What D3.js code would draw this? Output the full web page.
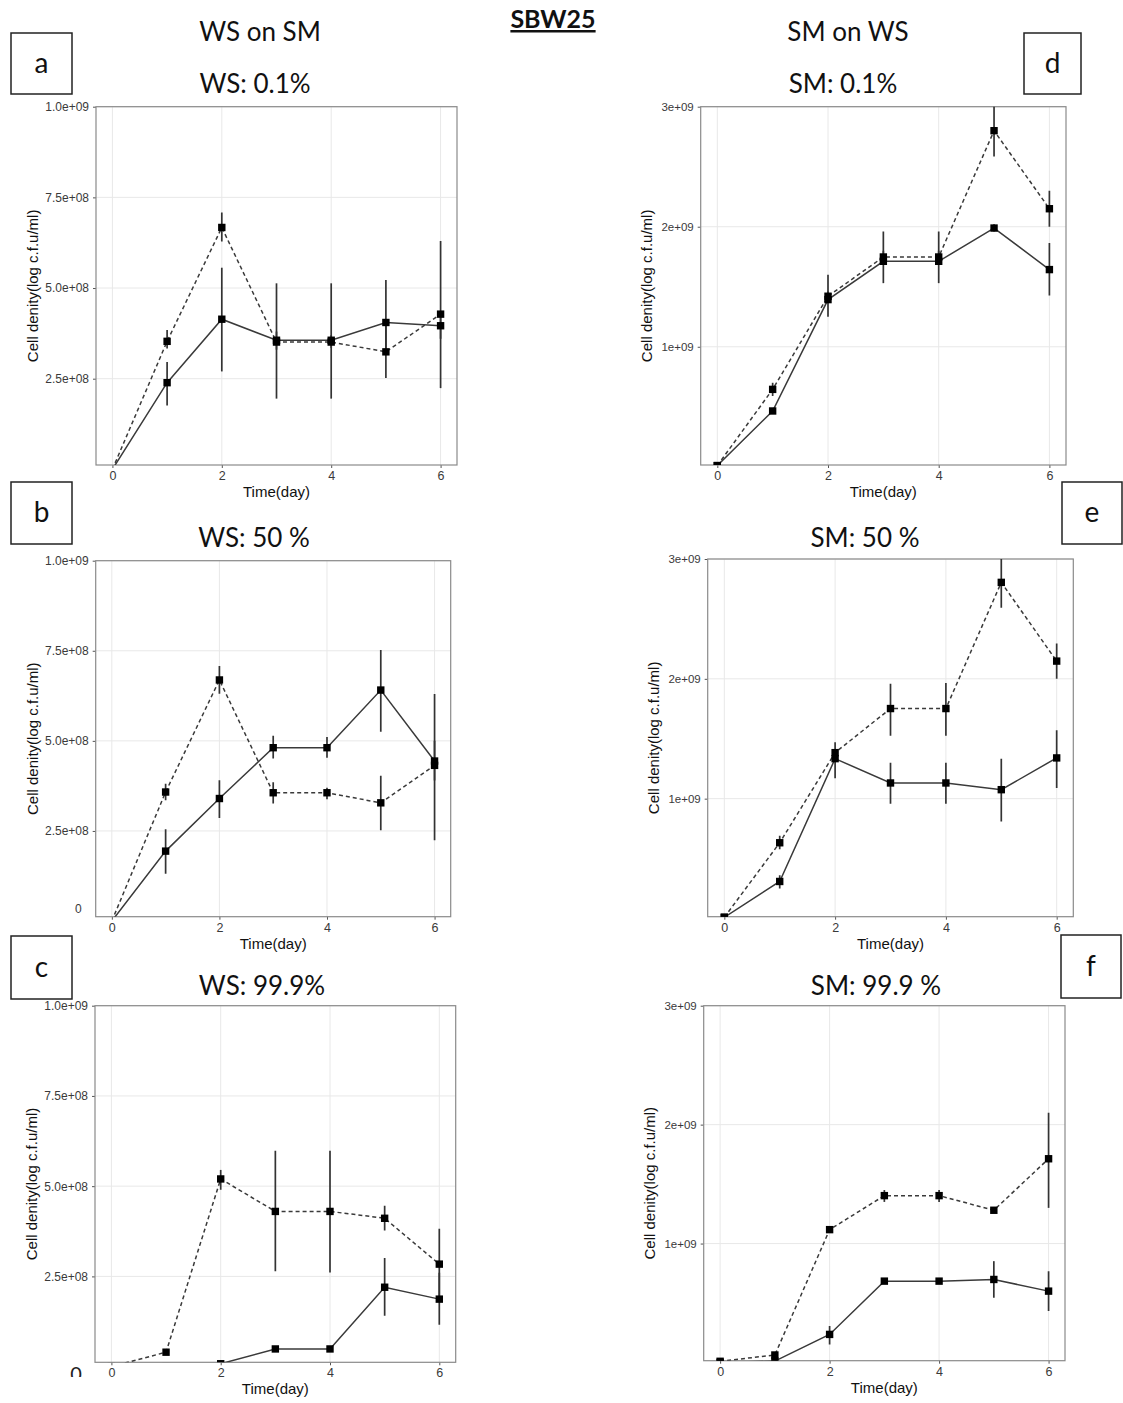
<!DOCTYPE html>
<html>
<head>
<meta charset="utf-8">
<script src="https://cdn.jsdelivr.net/npm/d3@7"></script>
<style>
  html, body { margin: 0; padding: 0; background: #ffffff; }
  svg { display: block; }
</style>
</head>
<body>
<script>
// ---- Data ----------------------------------------------------------------
const days = [0, 1, 2, 3, 4, 5, 6];
const xTicks = [0, 2, 4, 6];
const leftTicks = [2.5e8, 5.0e8, 7.5e8, 1.0e9];
const leftTickLabels = ["2.5e+08", "5.0e+08", "7.5e+08", "1.0e+09"];
const rightTicks = [1e9, 2e9, 3e9];
const rightTickLabels = ["1e+09", "2e+09", "3e+09"];

// a) WS on SM, WS: 0.1%
const aSolid    = [0, 2.39e8, 4.14e8, 3.56e8, 3.56e8, 4.05e8, 3.96e8];
const aSolidLo  = [null, 1.76e8, 2.70e8, 1.95e8, 1.95e8, 3.30e8, 3.60e8];
const aSolidHi  = [null, 2.96e8, 5.56e8, 5.13e8, 5.13e8, 5.22e8, 4.30e8];
const aDashed   = [0, 3.53e8, 6.67e8, 3.51e8, 3.51e8, 3.24e8, 4.28e8];
const aDashedLo = [null, 3.33e8, 6.28e8, 3.30e8, 3.35e8, 2.52e8, 2.24e8];
const aDashedHi = [null, 3.84e8, 7.08e8, 3.80e8, 3.70e8, 4.00e8, 6.30e8];

// b) WS: 50 %
const bSolid    = [0, 1.94e8, 3.40e8, 4.81e8, 4.81e8, 6.41e8, 4.44e8];
const bSolidLo  = [null, 1.31e8, 2.86e8, 4.51e8, 4.53e8, 5.25e8, 3.90e8];
const bSolidHi  = [null, 2.55e8, 3.91e8, 5.14e8, 5.11e8, 7.52e8, 5.00e8];
const bDashed   = [0, 3.58e8, 6.69e8, 3.56e8, 3.56e8, 3.28e8, 4.32e8];
const bDashedLo = [null, 3.35e8, 6.31e8, 3.26e8, 3.38e8, 2.52e8, 2.24e8];
const bDashedHi = [null, 3.81e8, 7.08e8, 3.85e8, 3.70e8, 4.03e8, 6.30e8];

// c) WS: 99.9%
const cSolid    = [0, 0, 0.08e8, 0.49e8, 0.49e8, 2.20e8, 1.87e8];
const cSolidLo  = [null, null, null, 0.44e8, 0.44e8, 1.41e8, 1.16e8];
const cSolidHi  = [null, null, null, 0.54e8, 0.54e8, 3.01e8, 2.60e8];
const cDashed   = [0, 0.40e8, 5.20e8, 4.30e8, 4.30e8, 4.11e8, 2.84e8];
const cDashedLo = [null, 0.37e8, 4.90e8, 2.64e8, 2.61e8, 3.77e8, 1.90e8];
const cDashedHi = [null, 0.43e8, 5.45e8, 5.98e8, 5.98e8, 4.46e8, 3.82e8];

// d) SM on WS, SM: 0.1%
const dSolid    = [0.01e9, 0.465e9, 1.393e9, 1.712e9, 1.712e9, 1.989e9, 1.643e9];
const dSolidLo  = [null, 0.44e9, 1.25e9, 1.53e9, 1.53e9, 1.96e9, 1.427e9];
const dSolidHi  = [null, 0.49e9, 1.60e9, 1.96e9, 1.96e9, 2.02e9, 1.864e9];
const dDashed   = [0.01e9, 0.645e9, 1.421e9, 1.748e9, 1.748e9, 2.80e9, 2.15e9];
const dDashedLo = [null, 0.59e9, 1.38e9, 1.70e9, 1.70e9, 2.585e9, 2.00e9];
const dDashedHi = [null, 0.70e9, 1.46e9, 1.80e9, 1.80e9, 3.05e9, 2.30e9];

// e) SM: 50 %
const eSolid    = [0.01e9, 0.309e9, 1.334e9, 1.131e9, 1.131e9, 1.075e9, 1.34e9];
const eSolidLo  = [null, 0.25e9, 1.17e9, 0.958e9, 0.958e9, 0.81e9, 1.089e9];
const eSolidHi  = [null, 0.36e9, 1.40e9, 1.30e9, 1.30e9, 1.334e9, 1.571e9];
const eDashed   = [0.01e9, 0.632e9, 1.384e9, 1.752e9, 1.752e9, 2.805e9, 2.148e9];
const eDashedLo = [null, 0.577e9, 1.33e9, 1.524e9, 1.524e9, 2.593e9, 2.00e9];
const eDashedHi = [null, 0.69e9, 1.47e9, 1.96e9, 1.966e9, 3.05e9, 2.295e9];

// f) SM: 99.9 %
const fSolid    = [0, 0.012e9, 0.236e9, 0.684e9, 0.684e9, 0.698e9, 0.60e9];
const fSolidLo  = [null, null, 0.152e9, 0.67e9, 0.67e9, 0.544e9, 0.432e9];
const fSolidHi  = [null, null, 0.306e9, 0.70e9, 0.70e9, 0.852e9, 0.768e9];
const fDashed   = [0.01e9, 0.063e9, 1.117e9, 1.403e9, 1.403e9, 1.28e9, 1.713e9];
const fDashedLo = [null, 0.05e9, 1.10e9, 1.35e9, 1.35e9, 1.27e9, 1.30e9];
const fDashedHi = [null, 0.075e9, 1.13e9, 1.45e9, 1.45e9, 1.29e9, 2.10e9];

// ---- Layout --------------------------------------------------------------
const W = 1123, H = 1403;
const svg = d3.select("body").append("svg").attr("width", W).attr("height", H);
svg.append("rect").attr("width", W).attr("height", H).attr("fill", "#fff");

const titleFont = "Lato, 'Open Sans', sans-serif";
const axisFont = "'Liberation Sans', Arial, sans-serif";

// ---- Panel letters (drawn first so axis labels stay on top) --------------
const letters = [
  { t: "a", b: [11, 33, 72, 94] },
  { t: "b", b: [11, 482, 72, 544] },
  { t: "c", b: [11, 936, 72, 999] },
  { t: "d", b: [1024, 33, 1081, 94] },
  { t: "e", b: [1062, 482, 1122, 544] },
  { t: "f", b: [1061, 935, 1121, 998] }
];
const lg = svg.append("g").selectAll("g").data(letters).join("g");
lg.append("rect").attr("x", d => d.b[0]).attr("y", d => d.b[1])
  .attr("width", d => d.b[2] - d.b[0]).attr("height", d => d.b[3] - d.b[1])
  .attr("fill", "#fff").attr("stroke", "#222").attr("stroke-width", 1.5);
lg.append("text").attr("x", d => (d.b[0] + d.b[2]) / 2).attr("y", d => (d.b[1] + d.b[3]) / 2 + 9)
  .attr("text-anchor", "middle").attr("font-family", titleFont).attr("font-size", 28)
  .attr("fill", "#111").text(d => d.t);

const series = (s, lo, hi) => days.map((d, i) => ({ day: d, v: s[i], lo: lo[i], hi: hi[i] }));

const panels = [
  { id: "a", side: "L", box: [96, 106.7, 457, 465], solid: series(aSolid, aSolidLo, aSolidHi), dashed: series(aDashed, aDashedLo, aDashedHi) },
  { id: "b", side: "L", box: [95.7, 560.7, 450.7, 916.7], zeroLabel: true, solid: series(bSolid, bSolidLo, bSolidHi), dashed: series(bDashed, bDashedLo, bDashedHi) },
  { id: "c", side: "L", box: [95, 1005.7, 455.7, 1362.3], solid: series(cSolid, cSolidLo, cSolidHi), dashed: series(cDashed, cDashedLo, cDashedHi) },
  { id: "d", side: "R", box: [700.7, 106.7, 1066, 465], solid: series(dSolid, dSolidLo, dSolidHi), dashed: series(dDashed, dDashedLo, dDashedHi) },
  { id: "e", side: "R", box: [707.7, 559, 1073.3, 916.7], solid: series(eSolid, eSolidLo, eSolidHi), dashed: series(eDashed, eDashedLo, eDashedHi) },
  { id: "f", side: "R", box: [703.7, 1005.7, 1065, 1360.7], solid: series(fSolid, fSolidLo, fSolidHi), dashed: series(fDashed, fDashedLo, fDashedHi) }
];

function drawPanel(p) {
  const [x0, y0, x1, y1] = p.box;
  const left = p.side === "L";
  const x = d3.scaleLinear().domain([-0.3, 6.3]).range([x0, x1]);
  const y = d3.scaleLinear().domain(left ? [1.2e7, 1e9] : [1.5e7, 3e9]).range([y1, y0]);
  const ticks = left ? leftTicks : rightTicks;
  const tickLabels = left ? leftTickLabels : rightTickLabels;

  const g = svg.append("g");
  const clipId = "clip-" + p.id;
  svg.append("clipPath").attr("id", clipId)
    .append("rect").attr("x", x0).attr("y", y0).attr("width", x1 - x0).attr("height", y1 - y0);

  // grid
  g.append("g").selectAll("line").data(xTicks).join("line")
    .attr("x1", d => x(d)).attr("x2", d => x(d)).attr("y1", y0).attr("y2", y1)
    .attr("stroke", "#e8e8e8").attr("stroke-width", 1);
  g.append("g").selectAll("line").data(ticks).join("line")
    .attr("x1", x0).attr("x2", x1).attr("y1", d => y(d)).attr("y2", d => y(d))
    .attr("stroke", "#e8e8e8").attr("stroke-width", 1);

  // axes
  const yAxis = d3.axisLeft(y).tickValues(p.zeroLabel ? [0].concat(ticks) : ticks)
    .tickFormat(d => d === 0 ? "0" : tickLabels[ticks.indexOf(d)])
    .tickSize(3).tickPadding(4);
  const ya = g.append("g").attr("transform", `translate(${x0},0)`).call(yAxis);
  ya.select(".domain").remove();
  ya.selectAll("line").attr("stroke", "#555");
  ya.selectAll("text").attr("font-family", axisFont).attr("font-size", left ? 12 : 11.5).attr("fill", "#3a3a3a");
  if (p.zeroLabel) {
    // the zero label sits just inside the panel's lower edge
    ya.selectAll(".tick").filter(d => d === 0).select("line").remove();
    ya.selectAll(".tick").filter(d => d === 0).select("text").attr("dy", "-0.7em").attr("x", -14);
  }

  const xAxis = d3.axisBottom(x).tickValues(xTicks).tickFormat(d3.format("d")).tickSize(3).tickPadding(3);
  const xa = g.append("g").attr("transform", `translate(0,${y1})`).call(xAxis);
  xa.select(".domain").remove();
  xa.selectAll("line").attr("stroke", "#555");
  xa.selectAll("text").attr("font-family", axisFont).attr("font-size", 12.5).attr("fill", "#3a3a3a");

  // border
  g.append("rect").attr("x", x0).attr("y", y0).attr("width", x1 - x0).attr("height", y1 - y0)
    .attr("fill", "none").attr("stroke", "#8a8a8a").attr("stroke-width", 1.2);

  // axis titles
  g.append("text").attr("x", (x0 + x1) / 2).attr("y", y1 + 32)
    .attr("text-anchor", "middle").attr("font-family", axisFont).attr("font-size", 15)
    .attr("fill", "#111").text("Time(day)");
  const tx = left ? x0 - 64 : x0 - 55;
  g.append("text").attr("transform", `translate(${tx + 6},${(y0 + y1) / 2}) rotate(-90)`)
    .attr("text-anchor", "middle").attr("font-family", axisFont).attr("font-size", 15)
    .attr("fill", "#111").text("Cell denity(log c.f.u/ml)");

  // data
  const plot = g.append("g").attr("clip-path", `url(#${clipId})`);
  const line = d3.line().x(d => x(d.day)).y(d => y(d.v));
  [["solid", null], ["dashed", "4,3"]].forEach(([key, dash]) => {
    const data = p[key];
    plot.append("path").datum(data).attr("d", line)
      .attr("fill", "none").attr("stroke", "#3a3a3a").attr("stroke-width", 1.5)
      .attr("stroke-dasharray", dash);
    plot.append("g").selectAll("line").data(data.filter(d => d.lo != null)).join("line")
      .attr("x1", d => x(d.day)).attr("x2", d => x(d.day))
      .attr("y1", d => y(d.lo)).attr("y2", d => y(d.hi))
      .attr("stroke", "#333").attr("stroke-width", 1.7);
  });
  ["solid", "dashed"].forEach(key => {
    plot.append("g").selectAll("rect").data(p[key]).join("rect")
      .attr("x", d => x(d.day) - 3.7).attr("y", d => y(d.v) - 3.7)
      .attr("width", 7.4).attr("height", 7.4).attr("fill", "#000");
  });
}
panels.forEach(drawPanel);

// ---- Headings ------------------------------------------------------------
svg.append("text").attr("x", 553).attr("y", 28).attr("text-anchor", "middle")
  .attr("font-family", titleFont).attr("font-weight", "bold").attr("font-size", 25)
  .attr("text-decoration", "underline").attr("fill", "#111").text("SBW25");

const headings = [
  { t: "WS on SM", x: 260, y: 41 },
  { t: "SM on WS", x: 848, y: 41 },
  { t: "WS: 0.1%", x: 255, y: 93 },
  { t: "SM: 0.1%", x: 843, y: 93 },
  { t: "WS: 50 %", x: 254, y: 547 },
  { t: "SM: 50 %", x: 865, y: 547 },
  { t: "WS: 99.9%", x: 262, y: 995 },
  { t: "SM: 99.9 %", x: 876, y: 995 }
];
svg.append("g").selectAll("text").data(headings).join("text")
  .attr("x", d => d.x).attr("y", d => d.y).attr("text-anchor", "middle")
  .attr("font-family", titleFont).attr("font-size", 26).attr("fill", "#111").text(d => d.t);

// stray zero beside panel c's lower corner, partly hidden
svg.append("clipPath").attr("id", "zclip").append("rect")
  .attr("x", 60).attr("y", 1364).attr("width", 30).attr("height", 13);
svg.append("text").attr("x", 76).attr("y", 1381).attr("text-anchor", "middle")
  .attr("clip-path", "url(#zclip)").attr("font-family", titleFont).attr("font-size", 20)
  .attr("fill", "#222").text("0");
</script>
</body>
</html>
